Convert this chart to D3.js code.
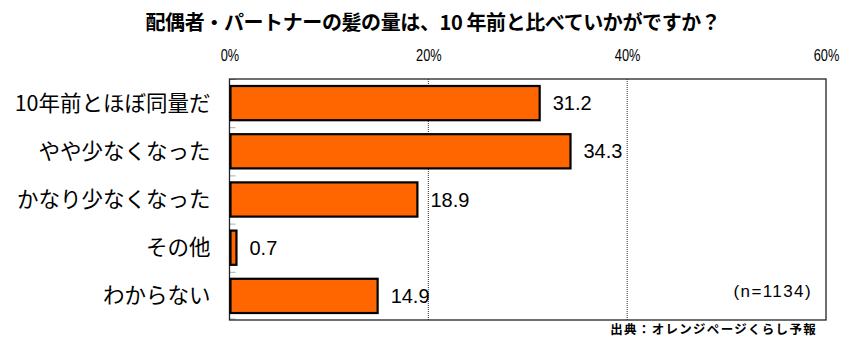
<!DOCTYPE html>
<html>
<head>
<meta charset="utf-8">
<script src="https://cdn.jsdelivr.net/npm/d3@7"></script>
<style>
  html, body { margin: 0; padding: 0; background: #fff; }
  svg { display: block; }
</style>
</head>
<body>
<svg id="chart" width="849" height="338"></svg>
<script>
const categories = ["10年前とほぼ同量だ", "やや少なくなった", "かなり少なくなった", "その他", "わからない"];
const values = [31.2, 34.3, 18.9, 0.7, 14.9];
const tickValues = [0, 20, 40, 60];
const tickLabels = ["0%", "20%", "40%", "60%"];

const JP = "'Noto Sans CJK JP', 'Noto Sans', sans-serif";
const LATIN = "'Liberation Sans', Arial, sans-serif";

const svg = d3.select("#chart");
const margin = { left: 229.5, right: 23, top: 79, bottom: 18 };
const W = 849, H = 338;
const plotW = W - margin.left - margin.right;
const plotH = H - margin.top - margin.bottom;

const x = d3.scaleLinear().domain([0, 60]).range([0, plotW]);
const y = d3.scaleBand().domain(categories).range([0, plotH]).paddingInner(0.29).paddingOuter(0.145);

const g = svg.append("g").attr("transform", `translate(${margin.left},${margin.top})`);

// Title
svg.append("text")
  .attr("x", 433).attr("y", 30)
  .attr("text-anchor", "middle")
  .style("font-family", JP)
  .attr("font-size", 20).attr("font-weight", "bold")
  .attr("letter-spacing", -0.4)
  .text("配偶者・パートナーの髪の量は、10 年前と比べていかがですか？");

// Top tick labels (horizontally condensed)
const xAxis = d3.axisTop(x).tickValues(tickValues).tickFormat((d, i) => tickLabels[i]).tickSize(0).tickPadding(0);
g.append("g").attr("transform", "translate(0,-18)").call(xAxis)
  .call(a => a.select(".domain").remove())
  .call(a => a.selectAll("text")
    .style("font-family", LATIN)
    .attr("font-size", 16).attr("fill", "#000")
    .attr("transform", "scale(0.8,1)"));

// Gridlines
g.selectAll("line.grid").data([20, 40]).join("line")
  .attr("class", "grid")
  .attr("x1", d => x(d)).attr("x2", d => x(d))
  .attr("y1", 0).attr("y2", plotH)
  .attr("stroke", "#333").attr("stroke-width", 1)
  .attr("stroke-dasharray", "1,1");

// Category separator ticks on left axis
const bounds = d3.range(categories.length + 1).map(i => i * plotH / categories.length);
g.selectAll("line.ctick").data(bounds).join("line")
  .attr("class", "ctick")
  .attr("x1", 0).attr("x2", 6)
  .attr("y1", d => Math.min(d, plotH - 1.5) + 0.5).attr("y2", d => Math.min(d, plotH - 1.5) + 0.5)
  .attr("stroke", "#aaa").attr("stroke-width", 1);

// Plot frame
g.append("rect")
  .attr("x", 0).attr("y", 0).attr("width", plotW).attr("height", plotH)
  .attr("fill", "none").attr("stroke", "#222").attr("stroke-width", 1.3);

// Bars
g.selectAll("rect.bar").data(categories).join("rect")
  .attr("class", "bar")
  .attr("x", 1)
  .attr("y", d => y(d))
  .attr("width", (d, i) => x(values[i]) - 1)
  .attr("height", y.bandwidth())
  .attr("fill", "#FF6600")
  .attr("stroke", "#000").attr("stroke-width", 2.2);

// Value labels
g.selectAll("text.val").data(categories).join("text")
  .attr("class", "val")
  .attr("x", (d, i) => x(values[i]) + 13)
  .attr("y", d => y(d) + y.bandwidth() / 2 + 7)
  .style("font-family", LATIN)
  .attr("font-size", 20)
  .text((d, i) => values[i].toFixed(1));

// Category labels
g.selectAll("text.cat").data(categories).join("text")
  .attr("class", "cat")
  .attr("x", -19)
  .attr("y", d => y(d) + y.bandwidth() / 2 + 7.5)
  .attr("text-anchor", "end")
  .style("font-family", JP)
  .attr("font-size", 21.5)
  .text(d => d);

// Sample size
g.append("text")
  .attr("x", plotW - 14).attr("y", 218)
  .attr("text-anchor", "end")
  .style("font-family", LATIN)
  .attr("font-size", 17)
  .attr("letter-spacing", 1.4)
  .text("(n=1134)");

// Source
svg.append("text")
  .attr("x", 817).attr("y", 334)
  .attr("text-anchor", "end")
  .style("font-family", JP)
  .attr("font-size", 12.5).attr("font-weight", "bold")
  .attr("letter-spacing", 1.3)
  .text("出典：オレンジページくらし予報");
</script>
</body>
</html>
